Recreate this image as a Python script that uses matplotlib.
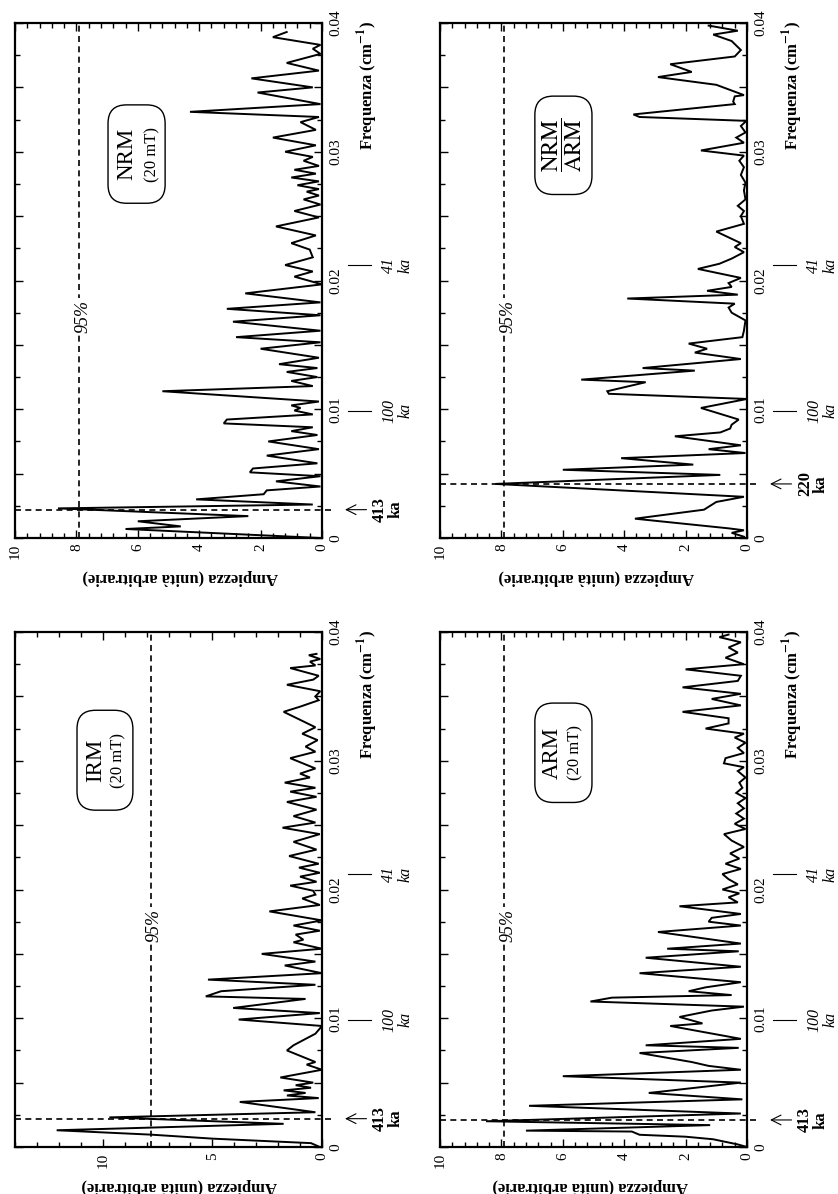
import matplotlib
matplotlib.use("Agg")
import matplotlib.pyplot as plt
from matplotlib.ticker import MultipleLocator, FuncFormatter
from matplotlib.patches import FancyBboxPatch
import matplotlib.transforms as mtrans

plt.rcParams['font.family'] = ['Liberation Serif', 'DejaVu Serif']
plt.rcParams['mathtext.fontset'] = 'stix'
plt.rcParams['ytick.alignment'] = 'center'

# ---------------- data (frequency in cm^-1, amplitude arbitrary units) -------------
nrm_freq = [0.0000, 0.0007, 0.0009, 0.0013, 0.0017, 0.0023, 0.0026, 0.0030, 0.0034, 0.0037,
            0.0040, 0.0044, 0.0048, 0.0051, 0.0054, 0.0058, 0.0064, 0.0069, 0.0075, 0.0080,
            0.0083, 0.0086, 0.0089, 0.0092, 0.0096, 0.0099, 0.0101, 0.0103, 0.0106, 0.0114,
            0.0118, 0.0122, 0.0125, 0.0129, 0.0132, 0.0135, 0.0140, 0.0147, 0.0152, 0.0156,
            0.0161, 0.0168, 0.0173, 0.0178, 0.0183, 0.0190, 0.0197, 0.0203, 0.0207, 0.0212,
            0.0218, 0.0224, 0.0229, 0.0235, 0.0242, 0.0249, 0.0254, 0.0259, 0.0263, 0.0266,
            0.0269, 0.0271, 0.0274, 0.0277, 0.0280, 0.0283, 0.0286, 0.0289, 0.0293, 0.0296,
            0.0300, 0.0305, 0.0311, 0.0317, 0.0323, 0.0327, 0.0331, 0.0337, 0.0346, 0.0350,
            0.0357, 0.0363, 0.0369, 0.0376, 0.0380, 0.0383, 0.0389, 0.0393]
nrm_amp = [0.05, 6.4, 4.6, 6.0, 2.4, 8.6, 0.3, 4.1, 1.9, 1.8,
           0.05, 1.5, 0.05, 2.35, 2.25, 0.15, 1.8, 0.1, 1.75, 0.15,
           1.0, 0.3, 3.2, 3.1, 0.3, 0.9, 0.7, 1.0, 0.1, 5.2,
           0.3, 1.0, 0.15, 1.15, 0.15, 1.4, 0.1, 2.0, 0.05, 2.8,
           0.05, 2.9, 0.05, 3.1, 0.05, 2.5, 0.0, 0.9, 0.3, 1.2,
           0.3, 0.4, 1.0, 0.2, 1.5, 0.1, 0.9, 0.05, 0.6, 0.1,
           0.5, 0.1, 0.8, 0.1, 1.0, 0.2, 0.9, 0.1, 0.6, 0.3,
           1.2, 0.2, 1.6, 0.2, 0.7, 0.1, 4.3, 0.05, 2.1, 0.3,
           2.3, 0.1, 1.15, 0.05, 0.3, 0.05, 1.6, 1.15]

irm_freq = [0.0000, 0.0003, 0.00065, 0.00096, 0.0013, 0.0018, 0.0023, 0.0027, 0.0035, 0.0038,
            0.0040, 0.0042, 0.0044, 0.0046, 0.0048, 0.0050, 0.0054, 0.0060, 0.0064, 0.0066,
            0.0075, 0.0079, 0.0088, 0.0094, 0.0099, 0.0104, 0.0108, 0.0115, 0.0117, 0.0121,
            0.0126, 0.0130, 0.0135, 0.0141, 0.0144, 0.0150, 0.0154, 0.0159, 0.0161, 0.0165,
            0.0168, 0.0172, 0.0176, 0.0183, 0.0188, 0.0193, 0.0196, 0.0199, 0.0203, 0.0206,
            0.0210, 0.0213, 0.0217, 0.0220, 0.0226, 0.0231, 0.0237, 0.0243, 0.0248, 0.0252,
            0.0257, 0.0262, 0.0268, 0.0272, 0.0276, 0.0279, 0.0283, 0.0287, 0.0290, 0.0294,
            0.0302, 0.0307, 0.0311, 0.0316, 0.0321, 0.0326, 0.0338, 0.0342, 0.0347, 0.0350,
            0.0354, 0.0359, 0.0363, 0.0366, 0.0372, 0.0374, 0.0377, 0.0379, 0.0382, 0.0383]
irm_amp = [0.1, 0.5, 5.0, 7.8, 12.1, 1.75, 9.7, 0.3, 3.75, 0.15,
           1.6, 0.75, 1.75, 0.5, 1.2, 0.4, 1.9, 0.0, 0.7, 0.3,
           1.6, 1.3, 0.3, 0.0, 3.8, 0.1, 4.05, 0.75, 5.3, 4.6,
           0.3, 5.2, 0.0, 1.7, 0.3, 2.75, 0.0, 1.3, 0.85, 1.2,
           0.1, 1.3, 0.0, 2.4, 0.1, 0.9, 0.3, 0.4, 1.45, 0.25,
           1.0, 0.1, 1.05, 0.15, 1.5, 0.25, 1.3, 0.1, 1.8, 0.3,
           1.3, 0.25, 1.6, 0.25, 1.45, 0.3, 1.7, 0.55, 1.0, 0.3,
           1.45, 0.3, 0.75, 0.2, 0.9, 0.3, 1.75, 1.0, 0.15, 0.3,
           0.08, 1.6, 0.4, 0.15, 1.45, 0.3, 0.55, 0.08, 0.6, 0.25]

ratio_freq = [0.0001, 0.0004, 0.0006, 0.00075, 0.0015, 0.0022, 0.0028, 0.0032, 0.0042, 0.0049,
              0.0053, 0.0057, 0.0062, 0.0066, 0.0069, 0.0072, 0.0079, 0.0082, 0.0085, 0.0088,
              0.0092, 0.0101, 0.0108, 0.0112, 0.0114, 0.0121, 0.0123, 0.0130, 0.0132, 0.0139,
              0.0144, 0.0147, 0.0151, 0.0156, 0.0161, 0.0169, 0.0175, 0.0179, 0.0182, 0.0186,
              0.0189, 0.0192, 0.0195, 0.0198, 0.0202, 0.0209, 0.0213, 0.0217, 0.0222, 0.0226,
              0.0229, 0.0238, 0.0244, 0.0250, 0.0254, 0.0258, 0.0263, 0.0270, 0.0276, 0.0282,
              0.0288, 0.0293, 0.0297, 0.0301, 0.0307, 0.0311, 0.0315, 0.0320, 0.0324, 0.0327,
              0.0329, 0.0337, 0.0339, 0.0343, 0.0344, 0.0352, 0.0358, 0.0362, 0.0368, 0.0374,
              0.0379, 0.0386, 0.0391, 0.0394, 0.0398]
ratio_amp = [0.1, 0.5, 0.1, 0.6, 3.65, 1.4, 1.0, 0.1, 8.2, 0.87,
             6.0, 1.75, 4.1, 0.05, 1.25, 0.2, 2.35, 0.87, 0.55, 0.5,
             0.27, 1.5, 0.0, 4.5, 4.55, 3.3, 5.4, 1.7, 3.4, 0.2,
             1.7, 1.3, 1.9, 0.15, 0.1, 0.05, 0.5, 0.6, 0.4, 3.9,
             0.3, 1.3, 0.5, 0.6, 0.2, 1.6, 0.9, 0.5, 0.1, 0.4,
             0.2, 1.0, 0.1, 0.2, 0.1, 0.3, 0.05, 0.1, 0.05, 0.2,
             0.1, 0.25, 0.1, 1.5, 0.1, 0.35, 0.05, 0.2, 0.02, 3.5,
             3.7, 0.4, 0.45, 0.4, 0.1, 1.0, 2.9, 1.8, 2.5, 0.4,
             0.2, 0.5, 1.1, 0.3, 1.25]

arm_freq = [0.0000, 0.0002, 0.0006, 0.0008, 0.00095, 0.0012, 0.00127, 0.0017, 0.0020, 0.0026,
            0.0032, 0.0037, 0.0042, 0.0043, 0.0050, 0.0055, 0.0060, 0.0063, 0.0066, 0.0073,
            0.0077, 0.0079, 0.0084, 0.0094, 0.0096, 0.0101, 0.0106, 0.0109, 0.0113, 0.0116,
            0.0118, 0.0121, 0.0124, 0.0128, 0.0135, 0.0140, 0.0147, 0.0152, 0.0154, 0.0158,
            0.0167, 0.0172, 0.0175, 0.0178, 0.0181, 0.0187, 0.0190, 0.0194, 0.0197, 0.0200,
            0.0204, 0.0208, 0.0212, 0.0216, 0.0220, 0.0224, 0.0228, 0.0233, 0.0238, 0.0243,
            0.0247, 0.0251, 0.0255, 0.0259, 0.0263, 0.0267, 0.0271, 0.0275, 0.0279, 0.0283,
            0.0287, 0.0292, 0.0295, 0.0298, 0.0302, 0.0306, 0.0310, 0.0314, 0.0318, 0.0321,
            0.0325, 0.0329, 0.0333, 0.0338, 0.0343, 0.0348, 0.0352, 0.0357, 0.0362, 0.0366,
            0.0371, 0.0375, 0.0380, 0.0384, 0.0388, 0.0392, 0.0396, 0.0398]
arm_amp = [0.0, 0.3, 1.1, 2.0, 3.5, 3.75, 7.2, 1.2, 8.5, 0.2,
           7.1, 0.15, 3.2, 2.8, 0.2, 6.0, 0.2, 1.25, 1.8, 3.5,
           0.27, 3.3, 0.2, 2.5, 1.45, 2.2, 1.15, 0.1, 5.1, 4.4,
           0.5, 1.9, 1.35, 0.2, 3.5, 0.2, 3.3, 0.27, 2.6, 0.2,
           2.9, 0.2, 1.25, 1.15, 0.2, 2.2, 0.3, 0.6, 0.25, 0.8,
           0.3, 0.6, 0.8, 0.2, 0.7, 0.25, 0.55, 0.1, 0.5, 0.75,
           0.05, 0.4, 0.1, 0.35, 0.1, 0.3, 0.05, 0.35, 0.15, 0.25,
           0.05, 0.3, 0.1, 0.75, 0.7, 0.1, 0.3, 0.05, 0.4, 0.1,
           1.35, 0.6, 0.6, 2.1, 0.2, 1.15, 0.2, 2.1, 0.3, 0.2,
           2.0, 0.1, 0.7, 0.3, 0.6, 0.2, 0.9, 0.6]

freq_ticks = [0, 0.01, 0.02, 0.03, 0.04]
period_marks = [(0.0099, "100"), (0.0212, "41")]

W, H = 838, 1194
fig = plt.figure(figsize=(W / 100, H / 100), dpi=100)


def make_ax(x0, y_top, width=307, height=515):
    return fig.add_axes([x0 / W, 1 - (y_top + height) / H, width / W, height / H])


def panel(ax, freq, amp, amax, amajor, aminor, conf, event_f, event_lbl,
          amp_lbl_x, box, texts):
    ax.plot(amp, freq, color='black', lw=1.4, solid_joinstyle='miter')
    ax.set_xlim(amax, 0)
    ax.set_ylim(0, 0.04)
    for s in ax.spines.values():
        s.set_linewidth(1.6)
    ax.xaxis.set_major_locator(MultipleLocator(amajor))
    ax.xaxis.set_minor_locator(MultipleLocator(aminor))
    ax.yaxis.set_major_locator(MultipleLocator(0.005))
    ax.yaxis.set_minor_locator(MultipleLocator(0.0025))

    def ffmt(v, p):
        k = round(v / 0.01)
        if abs(k * 0.01 - v) > 1e-9:
            return ''
        return '0' if k == 0 else f'{v:.2f}'
    ax.yaxis.set_major_formatter(FuncFormatter(ffmt))
    ax.xaxis.set_major_formatter(FuncFormatter(lambda v, p: f'{v:g}'))
    ax.tick_params(which='both', direction='in', top=True, bottom=True,
                   left=True, right=True, labelleft=False, labelright=True,
                   labelbottom=True, labeltop=False, width=1.0)
    ax.tick_params(which='major', length=6)
    ax.tick_params(which='minor', length=3.5)
    ax.tick_params(axis='x', labelrotation=90, labelsize=11, pad=4)
    ax.tick_params(axis='y', labelrotation=90, labelsize=11, pad=5)

    # 95% confidence line
    ax.axvline(conf, color='black', lw=1.2, ls=(0, (3.6, 2.6)))
    ax.text(conf - 0.1 * amax / 10, 0.0172, '95%', rotation=90, style='italic',
            fontsize=13, ha='center', va='center',
            bbox=dict(fc='white', ec='none', pad=1.5))

    blend = mtrans.blended_transform_factory(ax.transAxes, ax.transData)
    # event marker
    ax.plot([0, 1.035], [event_f, event_f], transform=blend, clip_on=False,
            color='black', lw=1.2, ls=(0, (3.6, 2.6)))
    ax.annotate('', xy=(1.075, event_f), xytext=(1.145, event_f),
                xycoords=blend, textcoords=blend,
                arrowprops=dict(arrowstyle='->,head_length=0.7,head_width=0.35',
                                lw=0.8, color='black', shrinkA=0, shrinkB=0))
    ax.text(1.215, event_f, event_lbl + '\nka', transform=blend, rotation=90,
            ha='center', va='center', fontsize=12, fontweight='bold',
            linespacing=1.0)
    # period markers
    for f, lbl in period_marks:
        ax.plot([1.085, 1.16], [f, f], transform=blend, clip_on=False,
                color='black', lw=0.8)
        ax.text(1.245, f, lbl + '\nka', transform=blend, rotation=90,
                ha='center', va='center', fontsize=11.5, style='italic',
                linespacing=1.0)

    ax.text(1.15, 1.005, r'Frequenza (cm$^{\mathbf{-1}}$)', transform=ax.transAxes,
            rotation=90, ha='center', va='top', fontsize=12, fontweight='bold')
    ax.text(amp_lbl_x, -0.076, 'Ampiezza (unità arbitrarie)', transform=ax.transAxes,
            rotation=180, ha='center', va='center', fontsize=12, fontweight='bold')

    bx0, bx1, by0, by1 = box
    patch = FancyBboxPatch((bx0, by0), bx1 - bx0, by1 - by0,
                           boxstyle='round,pad=0,rounding_size=0.06',
                           mutation_aspect=0.6, transform=ax.transAxes,
                           fc='white', ec='black', lw=1.0, zorder=5)
    ax.add_patch(patch)
    yc = (by0 + by1) / 2
    for xt, s, fs in texts:
        ax.text(xt, yc, s, transform=ax.transAxes, rotation=90, ha='center',
                va='center', fontsize=fs, zorder=6)


ax1 = make_ax(15, 23)    # NRM
ax2 = make_ax(440, 23)   # NRM/ARM
ax3 = make_ax(15, 632)   # IRM
ax4 = make_ax(440, 632)  # ARM

panel(ax1, nrm_freq, nrm_amp, 10, 2, 0.4, 7.9, 0.0022, '413', 0.537,
      (0.303, 0.489, 0.650, 0.841),
      [(0.365, 'NRM', 16.5), (0.446, '(20 mT)', 12)])
panel(ax2, ratio_freq, ratio_amp, 10, 2, 0.4, 7.9, 0.0042, '220', 0.51,
      (0.309, 0.495, 0.667, 0.858),
      [(0.398, r'$\dfrac{\mathrm{NRM}}{\mathrm{ARM}}$', 16.5)])
panel(ax3, irm_freq, irm_amp, 14, 5, 1, 7.8, 0.0022, '413', 0.535,
      (0.202, 0.384, 0.654, 0.848),
      [(0.262, 'IRM', 16.5), (0.338, '(20 mT)', 12)])
panel(ax4, arm_freq, arm_amp, 10, 2, 0.4, 7.9, 0.0021, '413', 0.49,
      (0.309, 0.495, 0.669, 0.862),
      [(0.365, 'ARM', 16.5), (0.440, '(20 mT)', 12)])

fig.savefig('out.png', dpi=100)
